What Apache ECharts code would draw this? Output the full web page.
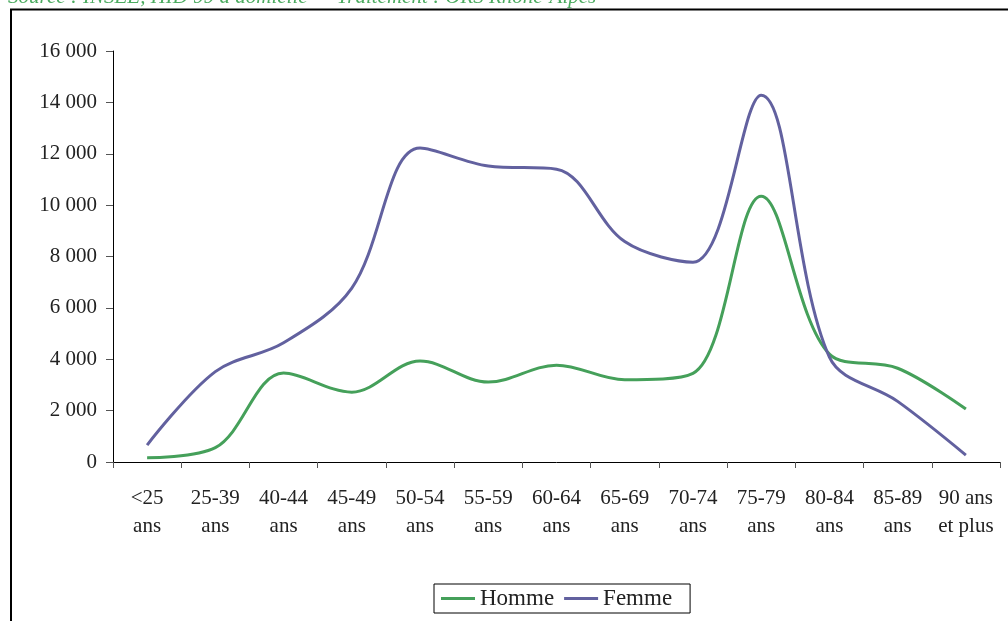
<!DOCTYPE html>
<html>
<head>
<meta charset="utf-8">
<script src="https://cdn.jsdelivr.net/npm/echarts@6/dist/echarts.min.js"></script>
<style>html,body{margin:0;padding:0;background:#fff;}#c{width:1008px;height:621px;}</style>
</head>
<body>
<div id="c"></div>
<script>
const categories = ['<25\nans','25-39\nans','40-44\nans','45-49\nans','50-54\nans','55-59\nans','60-64\nans','65-69\nans','70-74\nans','75-79\nans','80-84\nans','85-89\nans','90 ans\net plus'];
const homme = [170, 560, 3460, 2720, 3930, 3110, 3770, 3200, 3450, 10350, 4200, 3650, 2060];
const femme = [660, 3520, 4640, 6770, 12220, 11520, 11400, 8580, 7780, 14280, 4080, 2360, 270];
const seriesNames = ['Homme', 'Femme'];
const sourceText = 'Source : INSEE, HID 99 à domicile — Traitement : ORS Rhône-Alpes';

const FONT = '"Liberation Serif", "DejaVu Serif", serif';
const chart = echarts.init(document.getElementById('c'));
chart.setOption({
  animation: false,
  backgroundColor: '#fff',
  textStyle: { fontFamily: FONT },
  graphic: [
    { type: 'rect', shape: { x: 11, y: 9.5, width: 1100, height: 700 }, style: { fill: 'none', stroke: '#000', lineWidth: 2 } },
    { type: 'text', left: 8, top: -13, style: { text: sourceText, fill: '#4cab60', font: 'italic 21px ' + FONT } }
  ],
  grid: { left: 113, right: 8, top: 51, bottom: 159, containLabel: false },
  legend: {
    data: seriesNames,
    left: 434, top: 584,
    itemWidth: 34, itemHeight: 3, itemGap: 10,
    icon: 'rect',
    borderColor: '#000', borderWidth: 1, padding: [3, 18, 3, 7],
    textStyle: { fontSize: 23, color: '#222', fontFamily: FONT }
  },
  xAxis: {
    type: 'category', data: categories, boundaryGap: true,
    axisLine: { lineStyle: { color: '#000', width: 1 } },
    axisTick: { show: true, length: 6, inside: false, alignWithLabel: false, lineStyle: { color: '#555' } },
    axisLabel: { color: '#222', fontSize: 21, lineHeight: 28, margin: 22, interval: 0, fontFamily: FONT }
  },
  yAxis: {
    type: 'value', min: 0, max: 16000, interval: 2000,
    splitLine: { show: false },
    axisLine: { show: true, lineStyle: { color: '#000', width: 1 } },
    axisTick: { show: true, length: 7, lineStyle: { color: '#555' } },
    axisLabel: {
      color: '#222', fontSize: 21, margin: 16, fontFamily: FONT,
      formatter: v => String(v).replace(/\B(?=(\d{3})+(?!\d))/g, ' ')
    }
  },
  series: [
    { name: seriesNames[0], type: 'line', data: homme, smooth: 0.35, symbol: 'none', lineStyle: { color: '#45a05a', width: 3 }, itemStyle: { color: '#45a05a' } },
    { name: seriesNames[1], type: 'line', data: femme, smooth: 0.35, symbol: 'none', lineStyle: { color: '#62619f', width: 3 }, itemStyle: { color: '#62619f' } }
  ]
});
</script>
</body>
</html>
